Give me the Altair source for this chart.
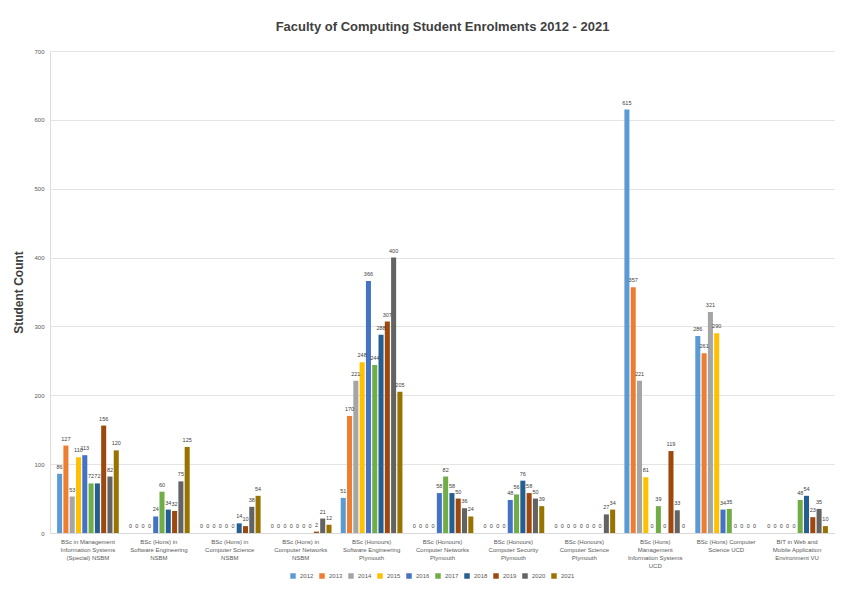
import altair as alt
import pandas as pd

programs = [
    "BSc in Management|Information Systems|(Special) NSBM",
    "BSc (Hons) in|Software Engineering|NSBM",
    "BSc (Hons) in|Computer Science|NSBM",
    "BSc (Hons) in|Computer Networks|NSBM",
    "BSc (Honours)|Software Engineering|Plymouth",
    "BSc (Honours)|Computer Networks|Plymouth",
    "BSc (Honours)|Computer Security|Plymouth",
    "BSc (Honours)|Computer Science|Plymouth",
    "BSc (Hons)|Management|Information Systems|UCD",
    "BSc (Hons) Computer|Science UCD",
    "BIT in Web and|Mobile Application|Environment VU",
]
years = ["2012", "2013", "2014", "2015", "2016", "2017", "2018", "2019", "2020", "2021"]

# values per programme, 2012..2021
mis_nsbm = [86, 127, 53, 110, 113, 72, 72, 156, 82, 120]
se_nsbm = [0, 0, 0, 0, 24, 60, 34, 32, 75, 125]
cs_nsbm = [0, 0, 0, 0, 0, 0, 14, 10, 38, 54]
cn_nsbm = [0, 0, 0, 0, 0, 0, 0, 2, 21, 12]
se_ply = [51, 170, 221, 248, 366, 244, 288, 307, 400, 205]
cn_ply = [0, 0, 0, 0, 58, 82, 58, 50, 36, 24]
sec_ply = [0, 0, 0, 0, 48, 56, 76, 58, 50, 39]
cs_ply = [0, 0, 0, 0, 0, 0, 0, 0, 27, 34]
mis_ucd = [615, 357, 221, 81, 0, 39, 0, 119, 33, 0]
cs_ucd = [286, 261, 321, 290, 34, 35, 0, 0, 0, 0]
bit_vu = [0, 0, 0, 0, 0, 48, 54, 23, 35, 10]

series = [mis_nsbm, se_nsbm, cs_nsbm, cn_nsbm, se_ply, cn_ply, sec_ply, cs_ply, mis_ucd, cs_ucd, bit_vu]
colors = ["#5B9BD5", "#ED7D31", "#A5A5A5", "#FFC000", "#4472C4",
          "#70AD47", "#255E91", "#9E480E", "#636363", "#997300"]

rows = []
for p, vals in zip(programs, series):
    for y, v in zip(years, vals):
        rows.append({"program": p, "year": y, "count": v})
df = pd.DataFrame(rows)

FONT = "Liberation Sans"

x_enc = alt.X(
    "program:N", sort=programs,
    scale=alt.Scale(paddingInner=0.13, paddingOuter=0.1),
    axis=alt.Axis(title=None, labelExpr="split(datum.label, '|')", labelAngle=0,
                  labelFontSize=6, labelColor="#595959", ticks=False,
                  domainColor="#D9D9D9", labelPadding=5, labelLimit=0,
                  labelFont=FONT, labelLineHeight=8),
)
xoff = alt.XOffset("year:N", sort=years, scale=alt.Scale(paddingInner=0.2))
y_enc = alt.Y(
    "count:Q",
    scale=alt.Scale(domain=[0, 700]),
    axis=alt.Axis(title="Student Count", values=list(range(0, 701, 100)),
                  titleFontSize=12, titleFont=FONT, titleColor="#404040",
                  titleFontWeight="bold", titlePadding=8,
                  labelFontSize=6, labelColor="#595959", labelFont=FONT,
                  ticks=False, domain=False, gridColor="#E4E4E4", labelPadding=6),
)

bars = alt.Chart(df).mark_bar().encode(
    x=x_enc, xOffset=xoff, y=y_enc,
    color=alt.Color("year:N", sort=years,
                    scale=alt.Scale(domain=years, range=colors),
                    legend=alt.Legend(title=None, orient="none", direction="horizontal",
                                      legendX=240, legendY=522, symbolType="square",
                                      symbolSize=30, labelFontSize=6, labelFont=FONT,
                                      labelColor="#595959", columnPadding=5,
                                      symbolStrokeWidth=0)),
)

labels = alt.Chart(df).mark_text(dy=-4, fontSize=5.5, color="#404040", font=FONT,
                                 baseline="bottom").encode(
    x=alt.X("program:N", sort=programs), xOffset=alt.XOffset("year:N", sort=years),
    y="count:Q", text="count:Q",
)

chart = (bars + labels).properties(
    width=785, height=482,
    title=alt.TitleParams("Faculty of Computing Student Enrolments 2012 - 2021",
                          fontSize=13, font=FONT, color="#404040", fontWeight="bold",
                          offset=14, anchor="middle"),
    autosize=alt.AutoSizeParams(type="none"),
    padding={"left": 42, "top": 43, "right": 0, "bottom": 60},
).configure_view(stroke=None).configure(background="white")

chart.save("out.html", embed_options={"renderer": "svg", "actions": False})
